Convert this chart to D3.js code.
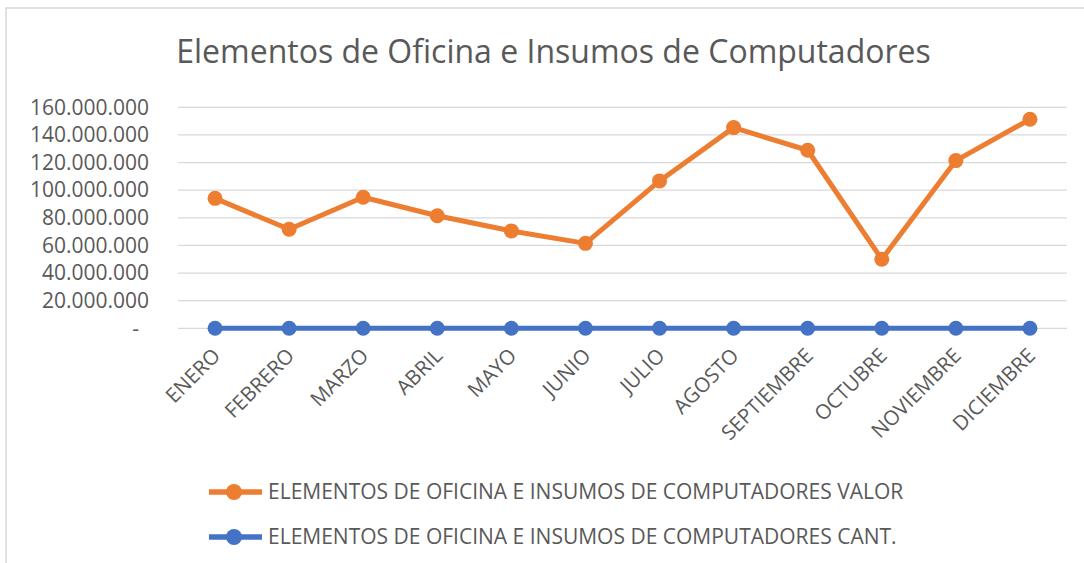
<!DOCTYPE html>
<html>
<head>
<meta charset="utf-8">
<script src="https://cdn.jsdelivr.net/npm/d3@7"></script>
<style>
  body { margin: 0; background: #fff; }
  svg text { font-family: "Open Sans", "Noto Sans", sans-serif; fill: #595959; }
</style>
</head>
<body>
<svg id="chart" width="1084" height="563"></svg>
<script>
const months = ["ENERO", "FEBRERO", "MARZO", "ABRIL", "MAYO", "JUNIO", "JULIO",
  "AGOSTO", "SEPTIEMBRE", "OCTUBRE", "NOVIEMBRE", "DICIEMBRE"];
const valor = [94100000, 71700000, 94900000, 81500000, 70500000, 61500000,
  106700000, 145300000, 128900000, 50000000, 121400000, 151300000];
const cant = [0, 0, 0, 0, 0, 0, 0, 0, 0, 0, 0, 0];
const yTicks = [0, 20000000, 40000000, 60000000, 80000000, 100000000, 120000000, 140000000, 160000000];
const seriesNames = ["ELEMENTOS DE OFICINA E INSUMOS DE COMPUTADORES VALOR",
  "ELEMENTOS DE OFICINA E INSUMOS DE COMPUTADORES CANT."];
const colors = ["#ED7D31", "#4472C4"];

const svg = d3.select("#chart");

// chart area border (runs off right/bottom)
svg.append("rect")
  .attr("x", 6).attr("y", 8)
  .attr("width", 1100).attr("height", 600)
  .attr("fill", "none")
  .attr("stroke", "#d9d9d9")
  .attr("stroke-width", 1.5);

const x = d3.scalePoint().domain(months).range([178, 1067]).padding(0.5);
const y = d3.scaleLinear().domain([0, 160000000]).range([328.3, 107.3]);

const fmt = (d) => d == 0 ? "-" : d3.format(",")(d).replace(/,/g, ".");

// gridlines
svg.append("g")
  .selectAll("line")
  .data(yTicks)
  .enter()
  .append("line")
  .attr("x1", 178).attr("x2", 1067)
  .attr("y1", (d) => y(d)).attr("y2", (d) => y(d))
  .attr("stroke", "#d9d9d9")
  .attr("stroke-width", 1.3);

// y axis labels
const yAxis = svg.append("g")
  .attr("transform", "translate(149,0)")
  .call(d3.axisLeft(y).tickValues(yTicks).tickFormat(fmt).tickSize(0).tickPadding(0));
yAxis.select(".domain").remove();
yAxis.selectAll(".tick text")
  .attr("font-size", "21px")
  .attr("dx", (d) => d == 0 ? -10 : 0)
  .style("font-family", '"Open Sans", sans-serif')
  .attr("fill", "#595959");

// x axis labels
const xAxis = svg.append("g")
  .attr("transform", "translate(0,357)")
  .call(d3.axisBottom(x).tickSize(0).tickPadding(0));
xAxis.select(".domain").remove();
xAxis.selectAll(".tick text")
  .attr("font-size", "20.5px")
  .style("font-family", '"Open Sans", sans-serif')
  .attr("fill", "#595959")
  .attr("text-anchor", "end")
  .attr("y", 0)
  .attr("dy", 0)
  .attr("transform", "translate(6,0) rotate(-45)");

const line = d3.line().x((d, i) => x(months[i])).y((d) => y(d));

[valor, cant].forEach((data, s) => {
  svg.append("path")
    .datum(data)
    .attr("d", line)
    .attr("fill", "none")
    .attr("stroke", colors[s])
    .attr("stroke-width", 5)
    .attr("stroke-linejoin", "round");

  svg.append("g")
    .selectAll("circle")
    .data(data)
    .enter()
    .append("circle")
    .attr("cx", (d, i) => x(months[i]))
    .attr("cy", (d) => y(d))
    .attr("r", 7.5)
    .attr("fill", colors[s]);
});

// title
svg.append("text")
  .attr("x", 553.5)
  .attr("y", 63)
  .attr("text-anchor", "middle")
  .attr("font-size", "32px")
  .text("Elementos de Oficina e Insumos de Computadores");

// legend
const legend = svg.append("g")
  .selectAll("g")
  .data(seriesNames)
  .enter()
  .append("g")
  .attr("transform", (d, i) => `translate(0,${492 + i * 45})`);

legend.append("line")
  .attr("x1", 209).attr("x2", 262)
  .attr("stroke", (d, i) => colors[i])
  .attr("stroke-width", 5.5);
legend.append("circle")
  .attr("cx", 234)
  .attr("r", 8)
  .attr("fill", (d, i) => colors[i]);
legend.append("text")
  .attr("x", 268)
  .attr("dy", "0.35em")
  .attr("font-size", "21px")
  .text((d) => d);
</script>
</body>
</html>
